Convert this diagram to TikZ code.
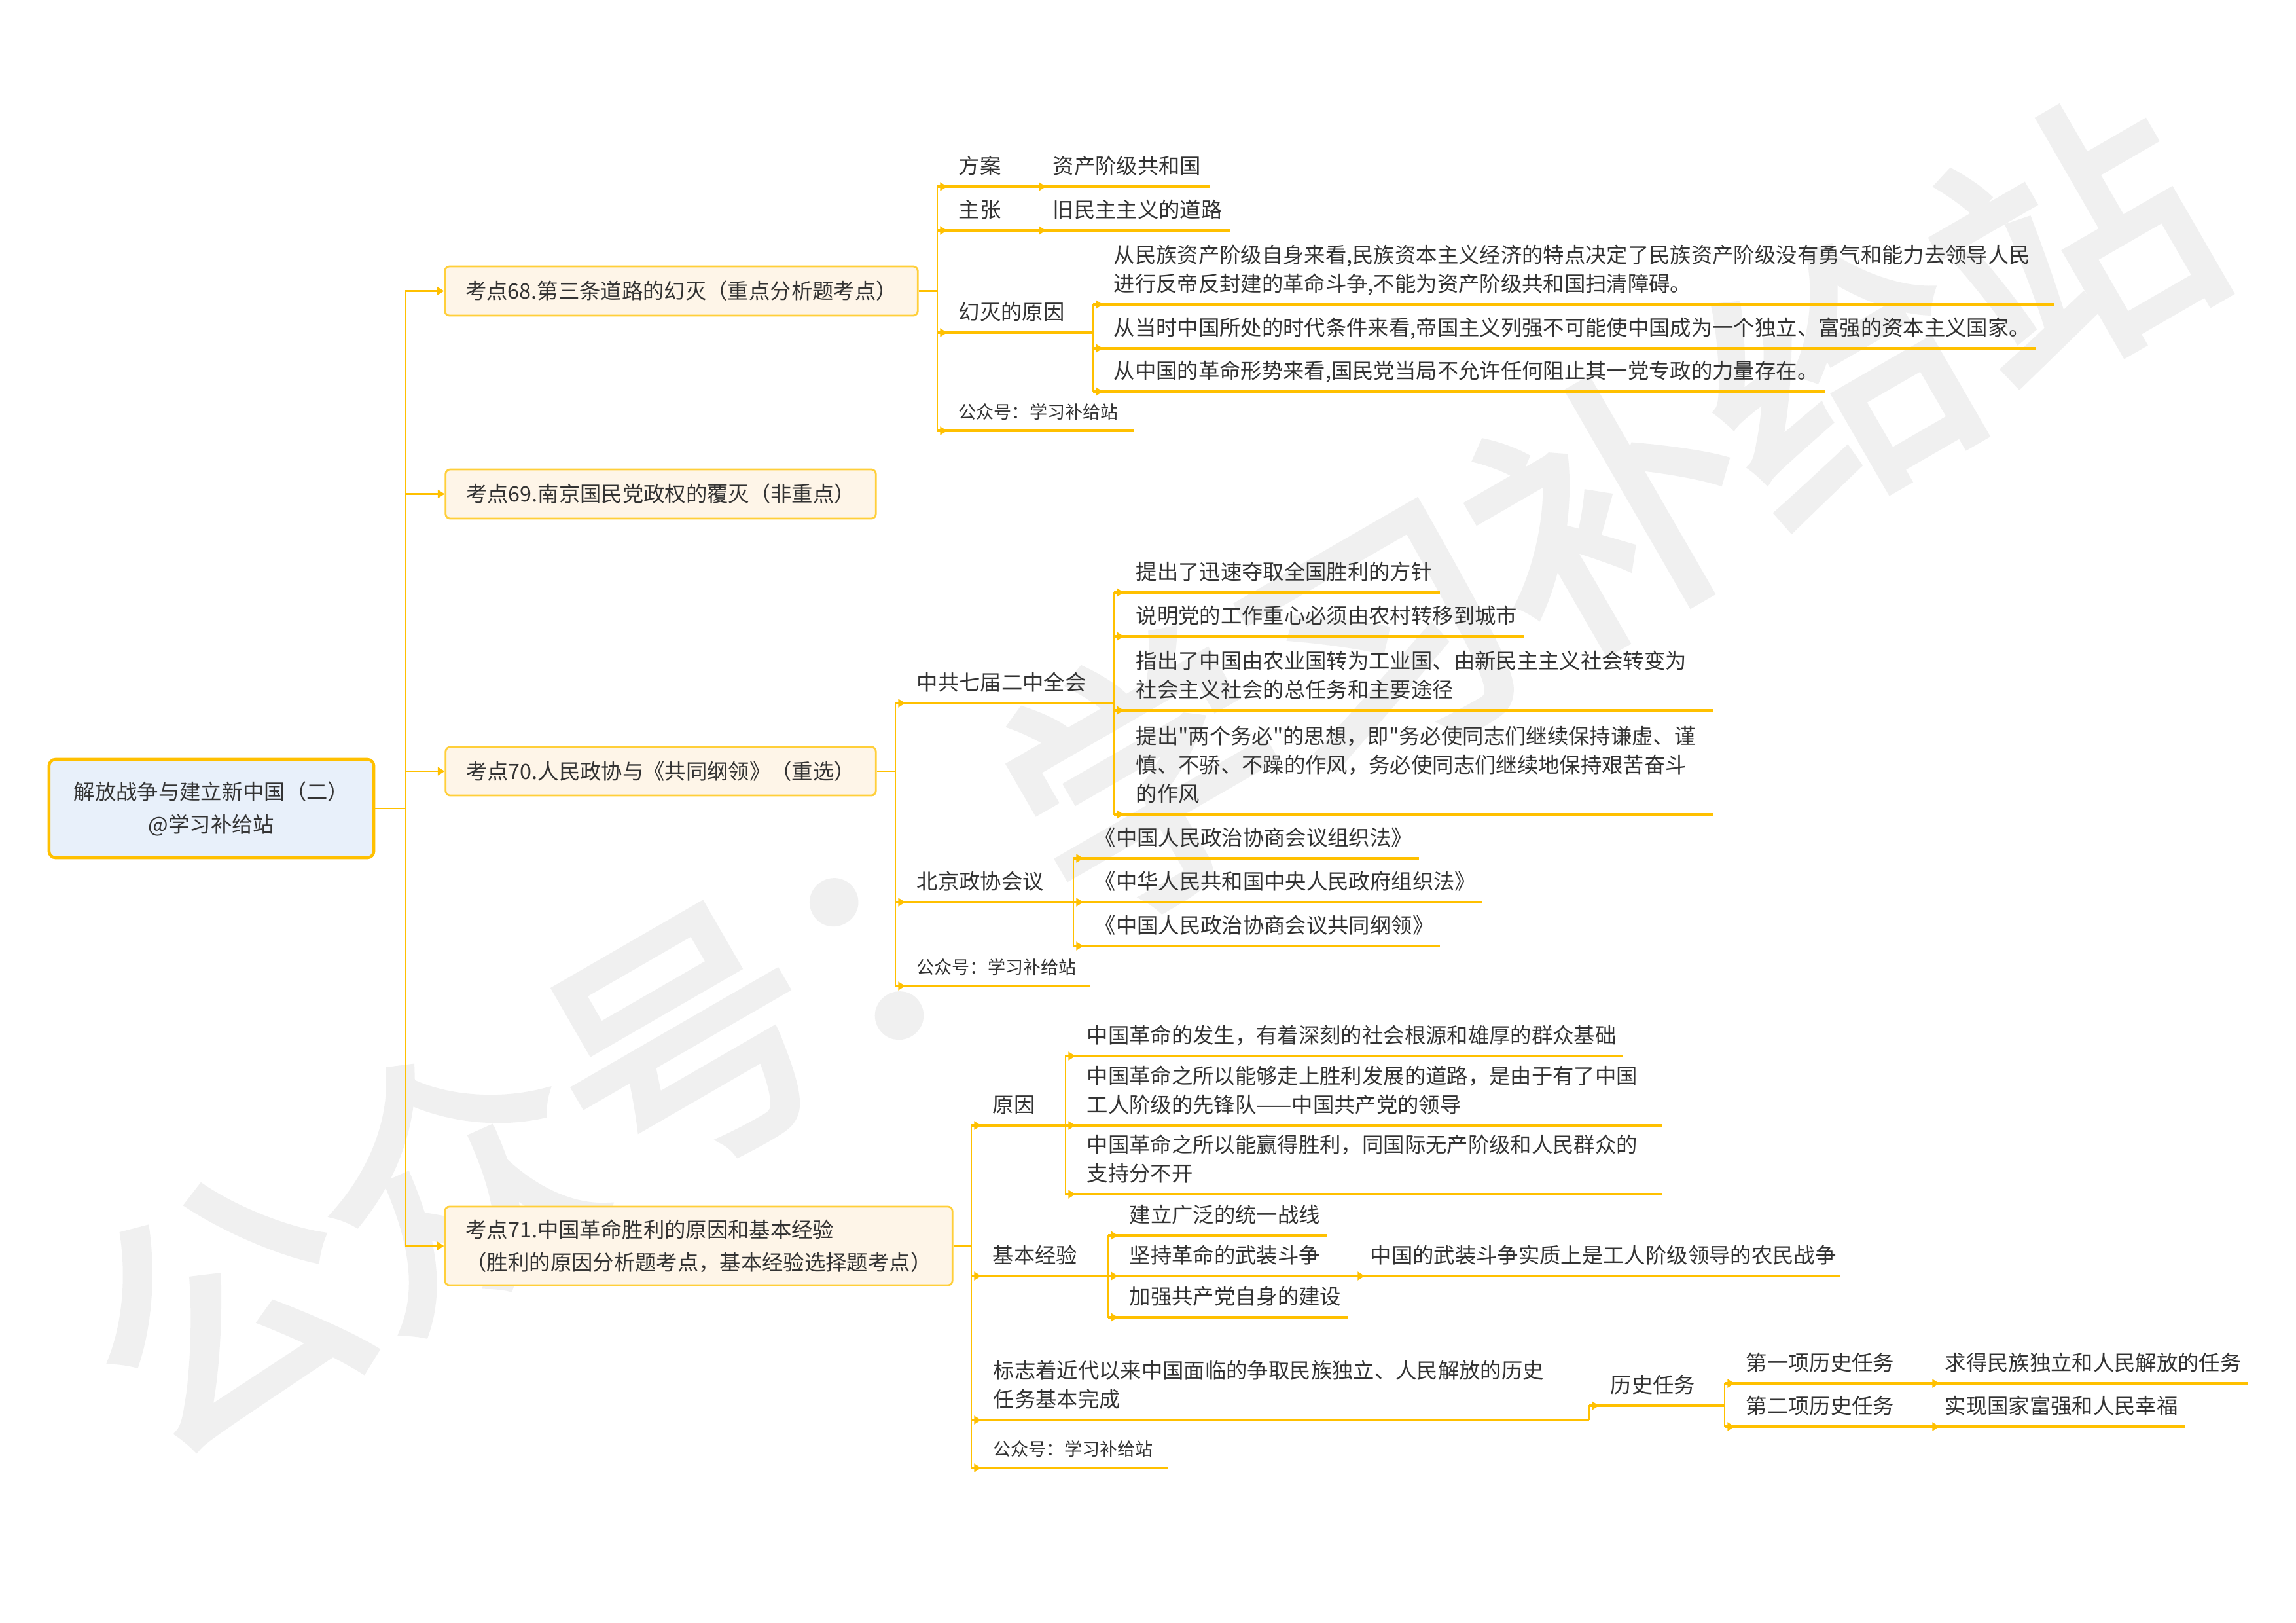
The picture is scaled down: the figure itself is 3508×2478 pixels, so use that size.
\documentclass[tikz,border=0pt]{standalone}
\usepackage{fontspec}
\setmainfont{Noto Sans CJK SC}
\newfontfamily\cjkplain{Noto Sans CJK SC}
\newfontfamily\wmfont{Noto Sans CJK SC}[FakeBold=3]
\usetikzlibrary{arrows.meta}
\definecolor{gold}{HTML}{FFC000}
\definecolor{boxline}{HTML}{FFCF3A}
\definecolor{boxfill}{HTML}{FEF5E8}
\definecolor{rootfill}{HTML}{E8F0FA}
\definecolor{txtc}{HTML}{333333}
\definecolor{wmgray}{HTML}{F0F0F0}
\newcommand\lstrut{\rule[-0.25em]{0pt}{1em}}
\newcommand\sq{{\cjkplain"}}
\newcommand\mkleaf[7][]{%
  \coordinate (#2-s) at (#3,#5);
  \coordinate (#2-e) at (#4,#5);
  \coordinate (#2-a) at (#3+15,#5);
  \draw[uline] (#2-s) -- (#2-e);
  \node[leafnode,#1] (#2) at (#6,#5-11) {#7};
}
\tikzset{
  txtbase/.style={font=\fontsize{9.2pt}{12.5pt}\selectfont, text=txtc},
  leafnode/.style={txtbase, anchor=south west, inner sep=0pt, align=left, execute at end node=\lstrut},
  smalltxt/.style={font=\fontsize{7.7pt}{10pt}\selectfont},
  uline/.style={draw=gold, line width=0.9pt},
  conn/.style={draw=gold, line width=0.8pt, -{Triangle[length=3pt,width=3.6pt]}},
  plainline/.style={draw=gold, line width=0.8pt},
  topic/.style={txtbase, draw=boxline, fill=boxfill, line width=0.8pt, rounded corners=0.07cm, inner sep=0pt, align=left},
  rootbox/.style={draw=gold, fill=rootfill, line width=1.3pt, rounded corners=0.1cm, inner sep=0pt, align=center, text=txtc, font=\fontsize{9.2pt}{14.2pt}\selectfont},
}
\begin{document}
\begin{tikzpicture}[x=0.01cm,y=-0.01cm]
\fill[white] (0,0) rectangle (3508,2478);
\useasboundingbox (0,0) rectangle (3508,2478);
% watermark
\node[rotate=30, text=wmgray, inner sep=0pt, font=\wmfont\fontsize{116pt}{116pt}\selectfont] (wm) at (1752,1186) {公众号：学习补给站};

% root and topics
\node[rootbox, minimum width=4.96cm, minimum height=1.5cm] (root) at (323,1235) {解放战争与建立新中国（二）\\@学习补给站};
\node[topic, minimum width=7.22cm, minimum height=0.75cm] (n68) at (1041,444.5) {考点68.第三条道路的幻灭（重点分析题考点）};
\node[topic, minimum width=6.57cm, minimum height=0.75cm] (n69) at (1009.5,754.5) {考点69.南京国民党政权的覆灭（非重点）};
\node[topic, minimum width=6.57cm, minimum height=0.74cm] (n70) at (1009.5,1178) {考点70.人民政协与《共同纲领》（重选）};
\node[topic, minimum width=7.75cm, minimum height=1.2cm, font=\fontsize{9.2pt}{14.2pt}\selectfont] (n71) at (1067.5,1903) {考点71.中国革命胜利的原因和基本经验\\（胜利的原因分析题考点，基本经验选择题考点）};

\coordinate (tr) at (620,1235);
\draw[plainline] (root.east) -- (tr);
\draw[conn] (tr) |- (n68.west);
\draw[conn] (tr) |- (n69.west);
\draw[conn] (tr) |- (n70.west);
\draw[conn] (tr) |- (n71.west);

% ---------- 68 ----------
\coordinate (b68) at (1432,444.5);
\draw[plainline] (n68.east) -- (b68);
\mkleaf{fa}{1432}{1583}{285}{1464}{方案}
\mkleaf{faz}{1583}{1848}{285}{1608}{资产阶级共和国}
\mkleaf{zz}{1432}{1583}{352}{1464}{主张}
\mkleaf{zzz}{1583}{1879}{352}{1608}{旧民主主义的道路}
\mkleaf{hm}{1432}{1670}{508}{1464}{幻灭的原因}
\mkleaf{hm1}{1670}{3139}{465}{1701}{从民族资产阶级自身来看,民族资本主义经济的特点决定了民族资产阶级没有勇气和能力去领导人民\\进行反帝反封建的革命斗争,不能为资产阶级共和国扫清障碍。}
\mkleaf{hm2}{1670}{3111}{532}{1701}{从当时中国所处的时代条件来看,帝国主义列强不可能使中国成为一个独立、富强的资本主义国家。}
\mkleaf{hm3}{1670}{2789}{598}{1701}{从中国的革命形势来看,国民党当局不允许任何阻止其一党专政的力量存在。}
\mkleaf[smalltxt]{gza}{1432}{1733}{658}{1464}{公众号：学习补给站}
\draw[conn] (b68) |- (fa-a);
\draw[conn] (fa-e) -- (faz-a);
\draw[conn] (b68) |- (zz-a);
\draw[conn] (zz-e) -- (zzz-a);
\draw[conn] (b68) |- (hm-a);
\draw[conn] (hm-e) |- (hm1-a);
\draw[conn] (hm-e) |- (hm2-a);
\draw[conn] (hm-e) |- (hm3-a);
\draw[conn] (b68) |- (gza-a);

% ---------- 70 ----------
\coordinate (b70) at (1368,1178);
\draw[plainline] (n70.east) -- (b70);
\mkleaf{zq}{1368}{1702}{1074}{1400}{中共七届二中全会}
\mkleaf{zq1}{1702}{2200}{905}{1735}{提出了迅速夺取全国胜利的方针}
\mkleaf{zq2}{1702}{2329}{972}{1735}{说明党的工作重心必须由农村转移到城市}
\mkleaf{zq3}{1702}{2617}{1085}{1735}{指出了中国由农业国转为工业国、由新民主主义社会转变为\\社会主义社会的总任务和主要途径}
\mkleaf{zq4}{1702}{2617}{1244}{1735}{提出\sq 两个务必\sq 的思想，即\sq 务必使同志们继续保持谦虚、谨\\慎、不骄、不躁的作风，务必使同志们继续地保持艰苦奋斗\\的作风}
\mkleaf{bj}{1368}{1640}{1378}{1400}{北京政协会议}
\mkleaf{bj1}{1640}{2168}{1311}{1672}{《中国人民政治协商会议组织法》}
\mkleaf{bj2}{1640}{2265}{1378}{1672}{《中华人民共和国中央人民政府组织法》}
\mkleaf{bj3}{1640}{2200}{1445}{1672}{《中国人民政治协商会议共同纲领》}
\mkleaf[smalltxt]{gzb}{1368}{1666}{1506}{1400}{公众号：学习补给站}
\draw[conn] (b70) |- (zq-a);
\draw[conn] (zq-e) |- (zq1-a);
\draw[conn] (zq-e) |- (zq2-a);
\draw[conn] (zq-e) |- (zq3-a);
\draw[conn] (zq-e) |- (zq4-a);
\draw[conn] (b70) |- (bj-a);
\draw[conn] (bj-e) |- (bj1-a);
\draw[conn] (bj-e) |- (bj2-a);
\draw[conn] (bj-e) |- (bj3-a);
\draw[conn] (b70) |- (gzb-a);

% ---------- 71 ----------
\coordinate (b71) at (1484,1903);
\draw[plainline] (n71.east) -- (b71);
\mkleaf{yy}{1484}{1628}{1719}{1516}{原因}
\mkleaf{yy1}{1628}{2479}{1613}{1660}{中国革命的发生，有着深刻的社会根源和雄厚的群众基础}
\mkleaf{yy2}{1628}{2540}{1719}{1660}{中国革命之所以能够走上胜利发展的道路，是由于有了中国\\工人阶级的先锋队——中国共产党的领导}
\mkleaf{yy3}{1628}{2540}{1824}{1660}{中国革命之所以能赢得胜利，同国际无产阶级和人民群众的\\支持分不开}
\mkleaf{jb}{1484}{1693}{1949}{1516}{基本经验}
\mkleaf{jb1}{1693}{2028}{1887}{1725}{建立广泛的统一战线}
\mkleaf{jb2}{1693}{2070}{1949}{1725}{坚持革命的武装斗争}
\mkleaf{jb2z}{2070}{2812}{1949}{2093}{中国的武装斗争实质上是工人阶级领导的农民战争}
\mkleaf{jb3}{1693}{2060}{2012}{1725}{加强共产党自身的建设}
\mkleaf{bz}{1484}{2428}{2169}{1517}{标志着近代以来中国面临的争取民族独立、人民解放的历史\\任务基本完成}
\mkleaf{ls}{2428}{2635}{2147}{2460}{历史任务}
\mkleaf{ls1}{2635}{2948}{2113}{2667}{第一项历史任务}
\mkleaf{ls1z}{2948}{3435}{2113}{2971}{求得民族独立和人民解放的任务}
\mkleaf{ls2}{2635}{2948}{2179}{2667}{第二项历史任务}
\mkleaf{ls2z}{2948}{3338}{2179}{2971}{实现国家富强和人民幸福}
\mkleaf[smalltxt]{gzc}{1484}{1784}{2242}{1517}{公众号：学习补给站}
\draw[conn] (b71) |- (yy-a);
\draw[conn] (yy-e) |- (yy1-a);
\draw[conn] (yy-e) |- (yy2-a);
\draw[conn] (yy-e) |- (yy3-a);
\draw[conn] (b71) |- (jb-a);
\draw[conn] (jb-e) |- (jb1-a);
\draw[conn] (jb-e) |- (jb2-a);
\draw[conn] (jb-e) |- (jb3-a);
\draw[conn] (jb2-e) -- (jb2z-a);
\draw[conn] (b71) |- (bz-a);
\draw[conn] (bz-e) |- (ls-a);
\draw[conn] (ls-e) |- (ls1-a);
\draw[conn] (ls-e) |- (ls2-a);
\draw[conn] (ls1-e) -- (ls1z-a);
\draw[conn] (ls2-e) -- (ls2z-a);
\draw[conn] (b71) |- (gzc-a);
\end{tikzpicture}
\end{document}
